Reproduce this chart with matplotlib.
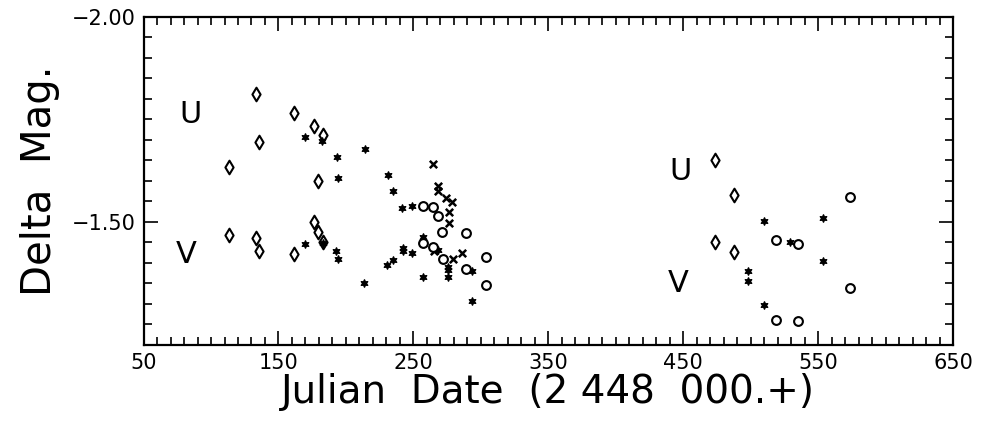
import matplotlib
matplotlib.use('Agg')
import matplotlib.pyplot as plt
from matplotlib.ticker import MultipleLocator, FixedLocator

# Datos (JD - 2448000, Delta Mag.)
diamond_x = [133.2, 161.6, 176.6, 182.8, 135.6, 113.6, 179.6, 176.6, 179.6,
             182.8, 113.6, 133.2, 135.6, 161.6, 473.6, 487.7, 473.6, 487.7]
diamond_y = [-1.811, -1.765, -1.735, -1.712, -1.696, -1.635, -1.600, -1.499, -1.475,
             -1.450, -1.468, -1.462, -1.429, -1.421, -1.651, -1.566, -1.451, -1.426]

star_x = [170.0, 182.1, 193.2, 214.0, 231.0, 194.0, 235.2, 241.9, 248.8, 257.3,
          268.4, 276.0, 276.0, 275.5, 257.0, 230.7, 235.2, 242.6, 242.6, 248.8,
          213.7, 192.7, 194.0, 170.0, 182.8, 293.3, 293.3, 509.5, 553.3, 528.8,
          553.3, 498.3, 498.3, 509.5]
star_y = [-1.708, -1.698, -1.658, -1.677, -1.615, -1.607, -1.576, -1.533, -1.540, -1.464,
          -1.432, -1.391, -1.383, -1.367, -1.367, -1.395, -1.407, -1.436, -1.428, -1.424,
          -1.352, -1.428, -1.410, -1.446, -1.449, -1.381, -1.308, -1.503, -1.509, -1.452,
          -1.406, -1.381, -1.357, -1.298]

cross_x = [264.8, 268.1, 268.5, 274.2, 278.9, 276.7, 276.5, 265.6, 279.7, 286.3]
cross_y = [-1.641, -1.588, -1.576, -1.558, -1.548, -1.524, -1.497, -1.428, -1.410, -1.424]

circle_x = [257.0, 264.4, 268.5, 271.5, 289.1, 257.4, 264.4, 271.9, 289.1, 303.7,
            303.7, 573.7, 518.7, 535.0, 573.7, 518.7, 535.0]
circle_y = [-1.539, -1.536, -1.515, -1.475, -1.472, -1.448, -1.440, -1.410, -1.385, -1.414,
            -1.346, -1.560, -1.456, -1.446, -1.338, -1.261, -1.259]

band_labels = ['U', 'V', 'U', 'V']
band_x = [84.5, 81.5, 447.7, 446.2]
band_y = [-1.761, -1.420, -1.622, -1.351]

x_ticks = [50, 150, 250, 350, 450, 550, 650]
y_ticks = [-2.00, -1.50]

fig = plt.figure(figsize=(9.9, 4.22), dpi=100)
ax = fig.add_axes([0.145, 0.1825, 0.8177, 0.7773])

ax.scatter(diamond_x, diamond_y, marker='d', s=48, facecolors='white',
           edgecolors='black', linewidths=1.5, zorder=3)
ax.scatter(star_x, star_y, marker=(6, 1, 0), s=28, color='black', zorder=3)
ax.scatter(cross_x, cross_y, marker='x', s=28, color='black', linewidths=1.8, zorder=3)
ax.scatter(circle_x, circle_y, marker='o', s=40, facecolors='white',
           edgecolors='black', linewidths=1.5, zorder=3)

for lab, bx, by in zip(band_labels, band_x, band_y):
    ax.text(bx, by, lab, fontsize=22, ha='center', va='center')

ax.set_xlim(50, 650)
ax.set_ylim(-1.2, -2.0)
ax.xaxis.set_major_locator(FixedLocator(x_ticks))
ax.xaxis.set_minor_locator(MultipleLocator(10))
ax.yaxis.set_major_locator(FixedLocator(y_ticks))
ax.yaxis.set_minor_locator(MultipleLocator(0.05))
ax.yaxis.set_major_formatter(plt.FuncFormatter(lambda v, p: f'\u2212{abs(v):.2f}'))

ax.tick_params(which='both', direction='in', top=True, right=True, width=1.2)
ax.tick_params(which='major', length=10, labelsize=15, pad=6)
ax.tick_params(which='minor', length=6)
for sp in ax.spines.values():
    sp.set_linewidth(1.6)

ax.set_xlabel('Julian  Date  (2 448  000.+)', fontsize=28, labelpad=0)
ax.set_ylabel('Delta  Mag.', fontsize=29, labelpad=8)

plt.savefig('out.png', dpi=100, facecolor='white')
plt.close()
